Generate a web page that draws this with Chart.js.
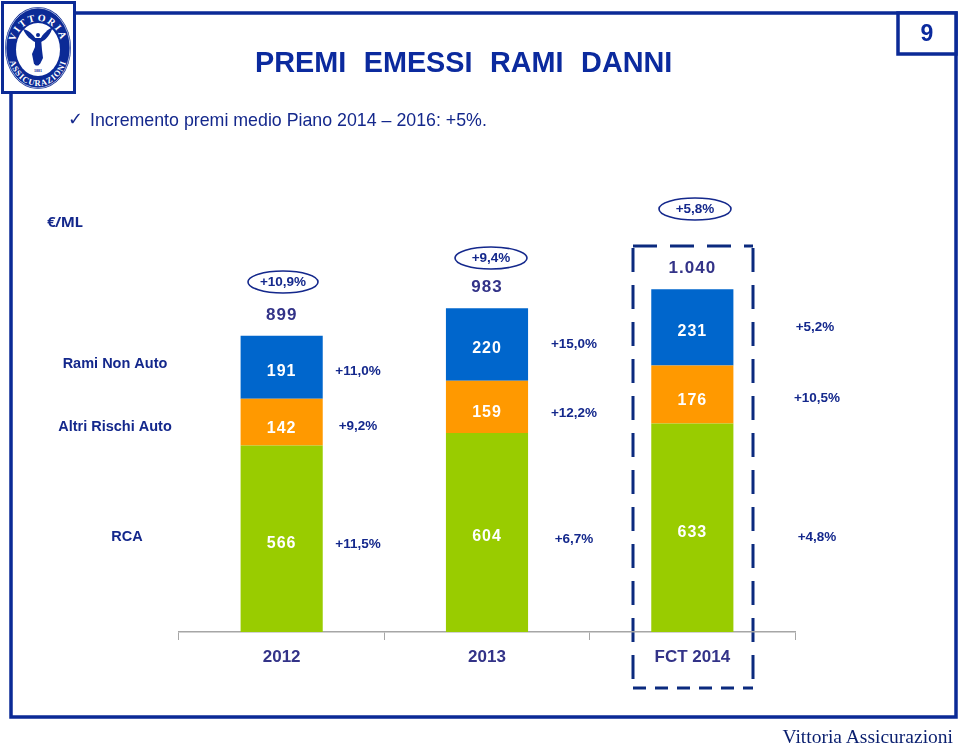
<!DOCTYPE html>
<html>
<head>
<meta charset="utf-8">
<script src="https://cdn.jsdelivr.net/npm/chart.js@4"></script>
<style>
  html, body { margin: 0; padding: 0; background: #fff; }
  #page { position: relative; width: 960px; height: 749px; overflow: hidden; font-family: "Liberation Sans", Arial, sans-serif; }
  #page svg, #page canvas { position: absolute; left: 0; top: 0; }
  .txt { position: absolute; white-space: nowrap; color: #0a1f8f; line-height: 1; }
  .title { left: 255px; top: 48px; font-size: 28.8px; font-weight: bold; color: #0b2a9e; word-spacing: 9.5px; }
  .sub { left: 90px; top: 112px; font-size: 17.8px; color: #14288c; }
  .check { left: 68px; top: 110px; font-size: 18px; color: #14288c; font-family: "DejaVu Sans"; }
  .unit { left: 47px; top: 214px; font-size: 15px; font-weight: bold; color: #14288c; font-family: "Open Sans"; letter-spacing: -0.5px; }
  .page-no { left: 898px; width: 58px; top: 22px; text-align: center; font-size: 23px; font-weight: bold; color: #0b2a9e; }
  .foot { right: 7px; top: 727px; font-size: 19.5px; color: #0a1f6f; font-family: "Liberation Serif", serif; }
</style>
</head>
<body>
<div id="page">
  <svg width="960" height="749">
    <g fill="none" stroke="#0b2a96" stroke-width="3.5">
      <rect x="11" y="13" width="945" height="704"/>
      <rect x="898" y="13" width="58" height="41" fill="#fff"/>
    </g>
    <g fill="none" stroke="#0b2a7e" stroke-width="3" stroke-dasharray="24 13">
      <path d="M633 246H753"/>
      <path d="M753 248V688"/>
      <path d="M633 248V688"/>
      <path d="M633 688H753" stroke-dasharray="13 9"/>
    </g>
    <g fill="#fff" stroke="#14288c" stroke-width="1.6">
      <ellipse cx="283" cy="282" rx="35" ry="11"/>
      <ellipse cx="491" cy="258" rx="36" ry="11"/>
      <ellipse cx="695" cy="209" rx="36" ry="11"/>
    </g>
    <!-- logo -->
    <rect x="2.5" y="2.5" width="72" height="90" fill="#fff" stroke="#0b2a96" stroke-width="3"/>
    <ellipse cx="38" cy="48" rx="33" ry="41" fill="#0b2a96"/>
    <ellipse cx="38" cy="48" rx="32" ry="40" fill="none" stroke="#fff" stroke-width="0.6"/>
    <ellipse cx="38" cy="49.5" rx="22" ry="26.5" fill="#fff"/>
    <defs>
      <path id="arcTop" d="M14 49 A24 28 0 0 1 62 49"/>
      <path id="arcBot" d="M8 50 A30 36 0 0 0 68 50"/>
    </defs>
    <g fill="#fff" font-family="Liberation Serif" font-weight="bold" text-anchor="middle">
      <text font-size="10" letter-spacing="2"><textPath href="#arcTop" startOffset="50%">VITTORIA</textPath></text>
      <text font-size="8.5" letter-spacing="0.9"><textPath href="#arcBot" startOffset="50%">ASSICURAZIONI</textPath></text>
    </g>
    <g fill="#0b2a96">
      <path d="M23 29 C28 30 33 34 36 39 L35 42 C31 40 26 36 23 29Z"/>
      <path d="M53 27 C48 29 43 34 40 39 L41 42 C46 40 50 35 53 27Z"/>
      <path d="M35 38 L41 38 L42 50 L43 58 L40 64 L34 64 L32 54 L35 47Z"/>
      <circle cx="38" cy="35" r="2"/>
      <circle cx="37" cy="63" r="2.6"/>
      <text x="38" y="71.5" font-size="4" font-weight="bold" text-anchor="middle" font-family="Liberation Serif">1881</text>
    </g>
  </svg>
  <canvas id="chart" width="960" height="749"></canvas>
  <div class="txt title">PREMI EMESSI RAMI DANNI</div>
  <div class="txt check">✓</div>
  <div class="txt sub">Incremento premi medio Piano 2014 – 2016: +5%.</div>
  <div class="txt unit">€/ML</div>
  <div class="txt page-no">9</div>
  <div class="txt foot">Vittoria Assicurazioni</div>
</div>
<script>
const categories = ["2012", "2013", "FCT 2014"];
const rca = [566, 604, 633];
const altriRischi = [142, 159, 176];
const ramiNonAuto = [191, 220, 231];
const totals = ["899", "983", "1.040"];
const growthRca = ["+11,5%", "+6,7%", "+4,8%"];
const growthAltri = ["+9,2%", "+12,2%", "+10,5%"];
const growthRami = ["+11,0%", "+15,0%", "+5,2%"];
const growthTotal = ["+10,9%", "+9,4%", "+5,8%"];
const seriesNames = ["RCA", "Altri Rischi Auto", "Rami Non Auto"];

const NAVY = "#14288c";
const NUM = "#333388";
const ellipseSpots = [[283, 282], [491, 258], [695, 209]];
const growthX = [[358, 574, 817], [358, 574, 817], [358, 574, 815]];
const growthY = [[544, 539, 537], [426, 413, 398], [371, 344, 327]];
const nameSpots = [[127, 536], [115, 426], [115, 363]];
const labelShift = [4.5, 6, 4];

function put(ctx, text, x, y, font, color, spacing) {
  ctx.font = font;
  ctx.fillStyle = color;
  ctx.letterSpacing = spacing || "0px";
  ctx.textAlign = "center";
  ctx.textBaseline = "middle";
  ctx.fillText(text, x, y);
}

const labelPlugin = {
  id: "labels",
  afterDatasetsDraw(chart) {
    const ctx = chart.ctx;
    const top = chart.getDatasetMeta(2).data;
    ctx.save();
    chart.data.datasets.forEach((ds, i) => {
      chart.getDatasetMeta(i).data.forEach((bar, j) => {
        const mid = (bar.y + bar.base) / 2 + labelShift[i];
        put(ctx, String(ds.data[j]), bar.x, mid, "bold 16px 'Liberation Sans'", "#fff", "1px");
      });
    });
    top.forEach((bar, j) => {
      put(ctx, totals[j], bar.x, bar.y - 21, "bold 17px 'Liberation Sans'", NUM, "1px");
    });
    [growthRca, growthAltri, growthRami].forEach((list, i) => {
      list.forEach((t, j) => {
        put(ctx, t, growthX[i][j], growthY[i][j], "bold 13.5px 'Liberation Sans'", NAVY);
      });
    });
    growthTotal.forEach((t, j) => {
      put(ctx, t, ellipseSpots[j][0], ellipseSpots[j][1], "bold 13.5px 'Liberation Sans'", NAVY);
    });
    seriesNames.forEach((t, i) => {
      put(ctx, t, nameSpots[i][0], nameSpots[i][1] + 1, "bold 14.5px 'Liberation Sans'", NAVY);
    });
    ctx.restore();
  }
};

new Chart(document.getElementById("chart"), {
  type: "bar",
  data: {
    labels: categories,
    datasets: [
      { label: seriesNames[0], data: rca, backgroundColor: "#99cc00" },
      { label: seriesNames[1], data: altriRischi, backgroundColor: "#ff9900" },
      { label: seriesNames[2], data: ramiNonAuto, backgroundColor: "#0066cc" },
    ],
  },
  options: {
    responsive: false,
    animation: false,
    layout: { padding: { left: 179, right: 165, top: 236, bottom: 0 } },
    datasets: { bar: { categoryPercentage: 1, barPercentage: 0.4 } },
    plugins: { legend: { display: false }, tooltip: { enabled: false } },
    scales: {
      x: {
        stacked: true,
        afterFit: (scale) => { scale.height = 117; },
        border: { color: "#a6a6a6", width: 1.5 },
        grid: { offset: true, drawOnChartArea: false, tickLength: 8, color: "#a6a6a6" },
        ticks: { padding: 7, color: NUM, font: { family: "Liberation Sans", size: 17, weight: "bold" } },
      },
      y: { stacked: true, display: false, min: 0, max: 1202 },
    },
  },
  plugins: [labelPlugin],
});
</script>
</body>
</html>
